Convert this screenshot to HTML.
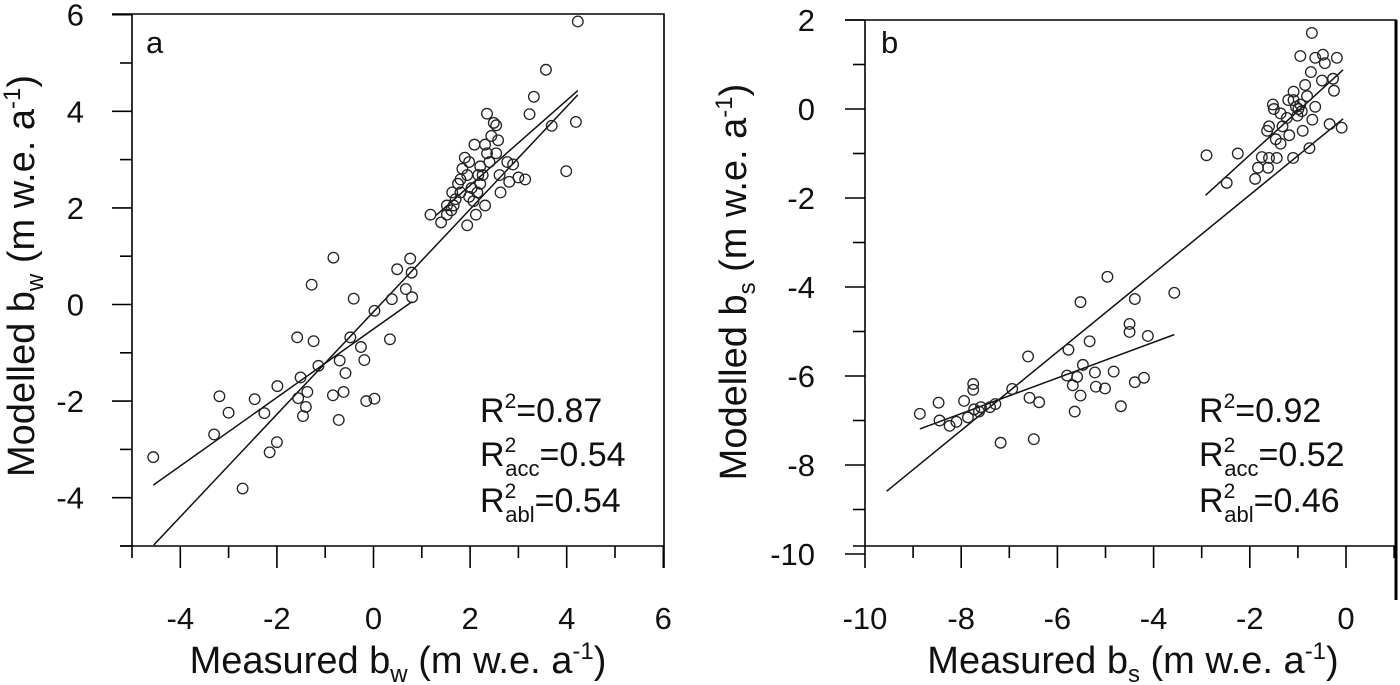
<!DOCTYPE html>
<html><head><meta charset="utf-8"><style>
html,body{margin:0;padding:0;background:#fff;}
svg{display:block;font-family:"Liberation Sans",Arial,sans-serif;}
</style></head><body>
<svg id="chart" width="1400" height="685" viewBox="0 0 1400 685">
<g id="pa"></g>
<g id="pb"></g>
</svg>
<script>
// Panel a data
const aMeasured = [-4.56,-3.30,-3.19,-3.0,-2.46,-2.26,-1.99,-2.0,-2.15,-2.71,-1.58,-1.28,-1.24,-0.83,-1.14,-1.51,-1.56,-1.37,-1.40,-1.46,-0.84,-0.72,-0.62,-0.58,-0.70,-0.48,-0.41,-0.26,-0.19,-0.15,0.02,0.02,0.34,0.38,0.49,0.76,0.79,0.67,0.80,
1.18,1.40,1.52,1.61,1.66,1.70,1.63,1.75,1.80,1.84,1.89,1.98,1.94,2.03,1.94,2.12,2.07,2.15,2.21,2.26,2.21,2.35,2.31,2.09,2.35,2.49,2.54,2.44,2.58,2.54,2.40,2.61,2.31,2.63,2.77,2.89,2.81,3.00,3.14,3.23,3.32,3.57,3.69,3.99,4.19,4.23,1.52,1.80,1.98,2.17];
const aModelled = [-3.16,-2.69,-1.90,-2.24,-1.96,-2.25,-1.69,-2.85,-3.06,-3.81,-0.68,0.41,-0.76,0.97,-1.27,-1.51,-1.94,-1.81,-2.12,-2.31,-1.88,-2.39,-1.81,-1.42,-1.16,-0.68,0.12,-0.88,-1.15,-2.0,-1.95,-0.13,-0.72,0.11,0.73,0.95,0.66,0.32,0.15,
1.86,1.70,1.86,1.95,2.05,2.18,2.32,2.50,2.59,2.81,3.04,2.95,2.68,2.41,1.64,1.86,2.14,2.32,2.50,2.68,2.86,3.13,3.31,3.31,3.95,3.76,3.71,3.49,3.40,3.13,2.95,2.68,2.05,2.32,2.95,2.90,2.54,2.63,2.59,3.94,4.30,4.86,3.70,2.76,3.78,5.86,2.05,2.32,2.23,2.68];
const aFitAll = [[-4.55,-4.98],[4.23,4.34]];
const aFitAbl = [[-4.56,-3.74],[0.8,0.06]];
const aFitAcc = [[1.3,1.85],[4.23,4.43]];
const aXTicks = [-4,-2,0,2,4,6];
const aYTicks = [-4,-2,0,2,4,6];
const aStats = ["0.87","0.54","0.54"];
// Panel b data
const bMeasured = [-8.86,-8.47,-8.45,-8.24,-8.10,-7.94,-7.86,-7.75,-7.75,-7.73,-7.63,-7.59,-7.40,-7.29,-7.18,-6.94,-6.61,-6.58,-6.49,-6.38,-5.77,-5.80,-5.68,-5.64,-5.59,-5.52,-5.52,-5.47,-5.33,-5.22,-5.20,-5.01,-4.96,-4.83,-4.68,-4.50,-4.50,-4.39,-4.39,-4.20,-4.12,-3.57,
-2.90,-2.48,-2.25,-1.89,-1.83,-1.75,-1.62,-1.60,-1.44,-1.64,-1.60,-1.52,-1.50,-1.46,-1.36,-1.32,-1.23,-1.20,-1.18,-1.10,-1.09,-1.04,-1.01,-0.99,-0.95,-0.92,-0.95,-0.90,-0.85,-0.81,-0.76,-0.73,-0.71,-0.70,-0.64,-0.64,-0.50,-0.48,-0.44,-0.34,-0.27,-0.25,-0.19,-0.09,-1.09,-1.36];
const bModelled = [-6.85,-6.60,-7.00,-7.12,-7.03,-6.56,-6.93,-6.18,-6.31,-6.75,-6.80,-6.70,-6.70,-6.63,-7.50,-6.29,-5.56,-6.49,-7.42,-6.59,-5.41,-5.99,-6.21,-6.80,-6.02,-6.44,-4.34,-5.75,-5.22,-5.92,-6.24,-6.28,-3.77,-5.90,-6.68,-4.83,-5.01,-4.27,-6.14,-6.04,-5.10,-4.13,
-1.04,-1.66,-1.00,-1.57,-1.32,-1.08,-1.32,-1.10,-1.10,-0.49,-0.39,0.10,0,-0.68,-0.78,-0.39,-0.20,0.20,-0.59,-1.10,0.39,0.05,-0.15,0,0.10,-0.05,1.19,-0.49,0.54,0.29,-0.88,0.83,1.71,-0.24,0.05,1.15,0.64,1.22,1.03,-0.34,0.68,0.41,1.15,-0.42,0.20,-0.10];
const bFitAll = [[-9.55,-8.59],[-0.06,-0.22]];
const bFitAbl = [[-8.86,-7.19],[-3.57,-5.07]];
const bFitAcc = [[-2.92,-1.94],[-0.06,0.88]];
const bXTicks = [-10,-8,-6,-4,-2,0];
const bYTicks = [-10,-8,-6,-4,-2,0,2];
const bStats = ["0.92","0.52","0.46"];

const NS="http://www.w3.org/2000/svg";
function mk(parent,tag,attrs){const e=document.createElementNS(NS,tag);for(const k in attrs)e.setAttribute(k,attrs[k]);parent.appendChild(e);return e;}

function panel(g,cfg){
  const sx=v=>cfg.x0+(v-cfg.xmin)*cfg.kx;
  const sy=v=>cfg.yb-(v-cfg.ymin)*cfg.ky;
  const L=cfg.left,T=cfg.top,R=cfg.right,B=cfg.bottom;
  const frame=mk(g,'path',{d:`M${L-20},${T}H${R}V${B+22}M${L},${T}V${B}M${L-12},${B}H${R}`,fill:'none',stroke:'#000','stroke-width':1.6});
  
  
  for(let v=Math.ceil(cfg.ymin);v<=cfg.ymax;v++){
    const y=sy(v);const major=cfg.yt.includes(v);
    const t=mk(g,'line',{x1:L-(major?20:12),x2:L,y1:y,y2:y,stroke:'#000','stroke-width':1.6});
    
    
  }
  cfg.yt.forEach(v=>{
    const t=mk(g,'text',{x:L-cfg.ylo,y:sy(v)+11,'text-anchor':'end','font-size':31,fill:'#111'});
    t.textContent=v;
    
    
  });
  for(let v=Math.ceil(cfg.xmin);v<=cfg.xmax;v++){
    const x=sx(v);
    const t=mk(g,'line',{x1:x,x2:x,y1:B,y2:B+12+(cfg.xt.includes(v)?10:0),stroke:'#000','stroke-width':1.6});
    
    
  }
  cfg.xt.forEach(v=>{
    const t=mk(g,'text',{x:sx(v),y:629,'text-anchor':'middle','font-size':31,fill:'#111'});
    t.textContent=v;
    
    
  });
  [cfg.fa,cfg.fb,cfg.fc].forEach((f,i)=>{
    const l=mk(g,'line',{x1:sx(f[0][0]),y1:sy(f[0][1]),x2:sx(f[1][0]),y2:sy(f[1][1]),stroke:'#111','stroke-width':1.5});
    
    
  });
  cfg.mx.forEach((v,i)=>{
    const c=mk(g,'circle',{cx:sx(v),cy:sy(cfg.my[i]),r:5.3,fill:'none',stroke:'#222','stroke-width':1.3});
    
    
  });
  const lab=mk(g,'text',{x:cfg.labx,y:53,'font-size':31,fill:'#111'});
  lab.textContent=cfg.label;
  
  
  const subs=['','acc','abl'];
  cfg.stats.forEach((s,i)=>{
    const t=mk(g,'text',{x:cfg.sx,y:[422,466,512][i],'font-size':34,fill:'#111'});
    t.innerHTML=`R<tspan font-size="21" dy="-14">2</tspan>`+(subs[i]?`<tspan font-size="22" dx="-11" dy="24">${subs[i]}</tspan><tspan dy="-10">=${s}</tspan>`:`<tspan dy="14">=${s}</tspan>`);
    
    
  });
  const xt=mk(g,'text',{x:cfg.xtc,y:673,'text-anchor':'middle','font-size':38,fill:'#111'});
  xt.innerHTML=`Measured b<tspan font-size="24" dy="9">${cfg.sub}</tspan><tspan dy="-9"> (m w.e. a</tspan><tspan font-size="24" dy="-14">-1</tspan><tspan dy="14">)</tspan>`;
  
  
  const yt=mk(g,'text',{x:0,y:0,'text-anchor':'middle','font-size':38,fill:'#111',transform:`translate(${cfg.ytx},${cfg.yty}) rotate(-90)`});
  yt.innerHTML=`Modelled b<tspan font-size="24" dy="9">${cfg.sub}</tspan><tspan dy="-9"> (m w.e. a</tspan><tspan font-size="24" dy="-14">-1</tspan><tspan dy="14">)</tspan>`;
  
  
}
panel(document.getElementById('pa'),{x0:132,xmin:-5,xmax:6,kx:48.3,yb:546,ymin:-5,ymax:6,ky:48.3,left:132,top:14,right:664,bottom:546,ylo:48,
 xt:aXTicks,yt:aYTicks,mx:aMeasured,my:aModelled,fa:aFitAll,fb:aFitAbl,fc:aFitAcc,stats:aStats,label:'a',labx:146,sx:480,sub:'w',xtc:398,ytx:34,yty:276});
panel(document.getElementById('pb'),{x0:865,xmin:-10,xmax:1,kx:48.1,yb:554,ymin:-10,ymax:2,ky:44.5,left:865,top:20,right:1396,bottom:546,ylo:50,
 xt:bXTicks,yt:bYTicks,mx:bMeasured,my:bModelled,fa:bFitAll,fb:bFitAbl,fc:bFitAcc,stats:bStats,label:'b',labx:881,sx:1199,sub:'s',xtc:1133,ytx:746,yty:282});
const edge=document.createElementNS(NS,'line');
edge.setAttribute('x1',1396);edge.setAttribute('x2',1396);edge.setAttribute('y1',20);edge.setAttribute('y2',600);
edge.setAttribute('stroke','#000');edge.setAttribute('stroke-width',3);


document.getElementById('chart').appendChild(edge);
</script>
</body></html>
